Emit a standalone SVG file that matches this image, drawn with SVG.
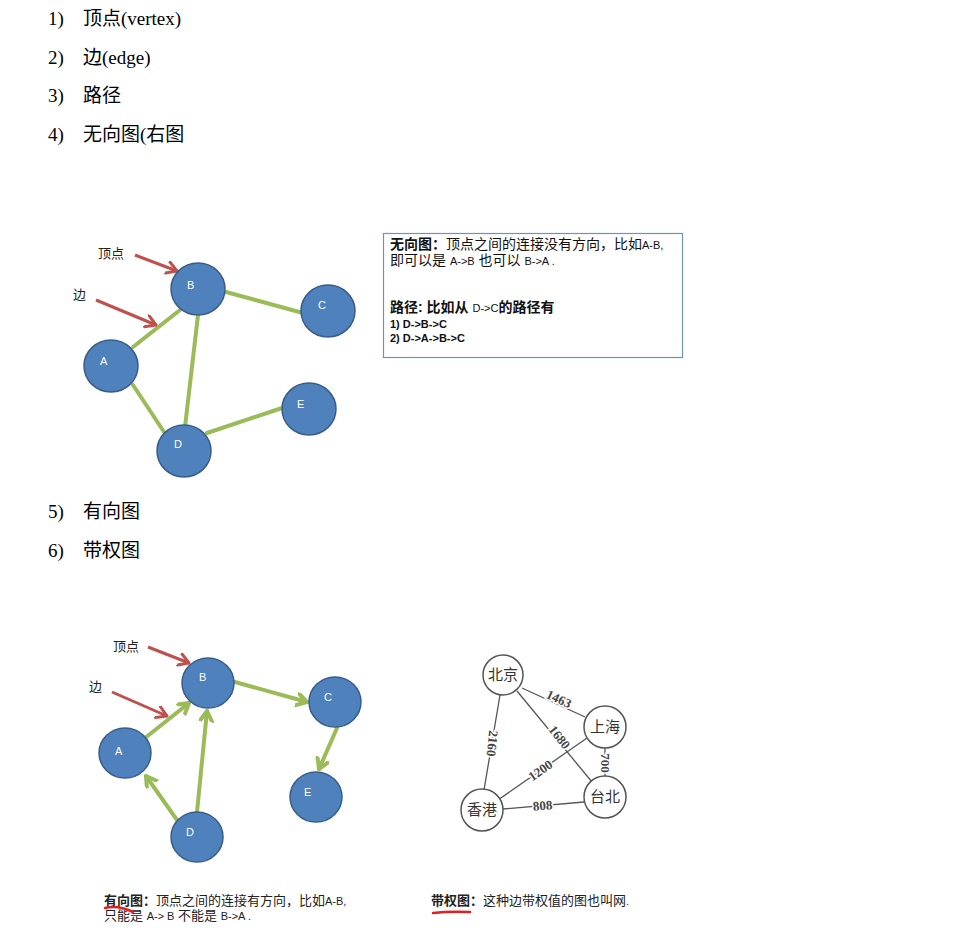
<svg xmlns="http://www.w3.org/2000/svg" width="956" height="949" viewBox="0 0 956 949">
<defs>
<style>
.list{font-family:"Liberation Serif","Noto Sans CJK SC",serif;font-size:19px;fill:#000}
.node{fill:#4f81bd;stroke:#385d8a;stroke-width:1.5}
.nl{font-family:"Liberation Sans",sans-serif;font-size:11px;fill:#fff}
.edge{stroke:#9bbb59;stroke-width:4;fill:none;stroke-linecap:round}
.red{stroke:#c0504d;stroke-width:3;fill:none}
.lab{font-family:"Liberation Sans","Noto Sans CJK SC",sans-serif;font-size:13px;fill:#222}
.box{font-family:"Liberation Sans","Noto Sans CJK SC",sans-serif;font-size:14px;fill:#111}
.sm{font-size:11px}
.wn{fill:#fff;stroke:#555;stroke-width:1.5}
.wt{font-family:"Noto Sans CJK SC",sans-serif;font-size:15px;fill:#333}
.we{stroke:#555;stroke-width:1.3;fill:none}
.wl{font-family:"Liberation Serif",serif;font-size:13px;font-weight:bold;fill:#444;stroke:#fff;stroke-width:3;paint-order:stroke}
.cap{font-family:"Liberation Sans","Noto Sans CJK SC",sans-serif;font-size:13px;fill:#222}
</style>
<marker id="ga" markerUnits="userSpaceOnUse" markerWidth="16" markerHeight="16" refX="11" refY="7" orient="auto">
<path d="M1,1 L11,7 L1,13" fill="none" stroke="#9bbb59" stroke-width="4" stroke-linecap="round" stroke-linejoin="round"/>
</marker>
<marker id="ra" markerUnits="userSpaceOnUse" markerWidth="16" markerHeight="16" refX="11" refY="7" orient="auto">
<path d="M1,1 L11,7 L1,13" fill="none" stroke="#c0504d" stroke-width="3" stroke-linecap="round" stroke-linejoin="round"/>
</marker>
</defs>
<rect width="956" height="949" fill="#fff"/>

<g id="list">
<text class="list" x="48" y="25">1)</text><text class="list" x="83" y="25">顶点(vertex)</text>
<text class="list" x="48" y="64">2)</text><text class="list" x="83" y="64">边(edge)</text>
<text class="list" x="48" y="102">3)</text><text class="list" x="83" y="102">路径</text>
<text class="list" x="48" y="141">4)</text><text class="list" x="83" y="141">无向图(右图</text>
<text class="list" x="48" y="518">5)</text><text class="list" x="83" y="518">有向图</text>
<text class="list" x="48" y="557">6)</text><text class="list" x="83" y="557">带权图</text>
</g>

<!-- Undirected graph -->
<g id="undirected-connectors">
<line class="edge" x1="226" y1="292" x2="303" y2="313"/>
<line class="edge" x1="133" y1="347" x2="180" y2="310"/>
<line class="edge" x1="198" y1="315" x2="185" y2="427"/>
<line class="edge" x1="133" y1="385" x2="166" y2="435"/>
<line class="edge" x1="207" y1="433" x2="282" y2="408"/>
<line class="red" x1="135" y1="255" x2="177" y2="271" marker-end="url(#ra)"/>
<line class="red" x1="96" y1="300" x2="156" y2="325" marker-end="url(#ra)"/>
</g>
<text class="lab" x="98" y="258">顶点</text>
<text class="lab" x="73" y="299">边</text>
<g id="u-B"><ellipse class="node" cx="198" cy="289" rx="27" ry="26"/><text class="nl" x="187" y="289">B</text></g>
<g id="u-C"><ellipse class="node" cx="328" cy="311" rx="27" ry="26"/><text class="nl" x="318" y="309">C</text></g>
<g id="u-A"><ellipse class="node" cx="111" cy="366" rx="27" ry="26"/><text class="nl" x="100" y="365">A</text></g>
<g id="u-E"><ellipse class="node" cx="309" cy="409" rx="27" ry="26"/><text class="nl" x="297" y="408">E</text></g>
<g id="u-D"><ellipse class="node" cx="184" cy="451" rx="27" ry="26"/><text class="nl" x="174" y="448">D</text></g>

<g id="textbox">
<rect x="383.5" y="233.5" width="299" height="124" fill="#fff" stroke="#6e93b8" stroke-width="1.2"/>
<text class="box" x="390" y="249"><tspan font-weight="bold">无向图：</tspan><tspan>顶点之间的连接没有方向，比如</tspan><tspan class="sm">A-B,</tspan></text>
<text class="box" x="390" y="265">即可以是 <tspan class="sm">A-&gt;B</tspan> 也可以 <tspan class="sm">B-&gt;A .</tspan></text>
<text class="box" x="390" y="312" font-weight="bold">路径: 比如从 <tspan class="sm" font-weight="normal">D-&gt;C</tspan>的路径有</text>
<text class="box sm" x="390" y="328" font-weight="bold">1) D-&gt;B-&gt;C</text>
<text class="box sm" x="390" y="342" font-weight="bold">2) D-&gt;A-&gt;B-&gt;C</text>
</g>

<!-- Directed graph -->
<g id="directed-connectors">
<line class="edge" x1="145" y1="738" x2="189" y2="703" marker-end="url(#ga)"/>
<line class="edge" x1="197" y1="812" x2="207" y2="711" marker-end="url(#ga)"/>
<line class="edge" x1="235" y1="682" x2="307" y2="702" marker-end="url(#ga)"/>
<line class="edge" x1="337" y1="728" x2="319" y2="769" marker-end="url(#ga)"/>
<line class="edge" x1="177" y1="820" x2="146" y2="776" marker-end="url(#ga)"/>
<line class="red" x1="148" y1="647" x2="189" y2="663" marker-end="url(#ra)"/>
<line class="red" x1="112" y1="692" x2="167" y2="716" marker-end="url(#ra)"/>
</g>
<text class="lab" x="113" y="651">顶点</text>
<text class="lab" x="89" y="691">边</text>
<g id="d-B"><ellipse class="node" cx="208" cy="683" rx="26" ry="25"/><text class="nl" x="199" y="681">B</text></g>
<g id="d-C"><ellipse class="node" cx="335" cy="702" rx="26" ry="25"/><text class="nl" x="324" y="701">C</text></g>
<g id="d-A"><ellipse class="node" cx="125" cy="753" rx="26" ry="25"/><text class="nl" x="115" y="755">A</text></g>
<g id="d-E"><ellipse class="node" cx="316" cy="797" rx="26" ry="25"/><text class="nl" x="304" y="796">E</text></g>
<g id="d-D"><ellipse class="node" cx="197" cy="837" rx="26" ry="25"/><text class="nl" x="186" y="836">D</text></g>

<!-- Weighted graph -->
<g id="weighted-connectors">
<line class="we" x1="522" y1="688" x2="585" y2="717"/>
<line class="we" x1="517" y1="691" x2="592" y2="782"/>
<line class="we" x1="500" y1="695" x2="484" y2="790"/>
<line class="we" x1="587" y1="738" x2="498" y2="800"/>
<line class="we" x1="605" y1="747" x2="605" y2="777"/>
<line class="we" x1="503" y1="809" x2="584" y2="802"/>
<text class="wl" transform="translate(557,703) rotate(25)" text-anchor="middle">1463</text>
<text class="wl" transform="translate(556,740) rotate(52)" text-anchor="middle">1680</text>
<text class="wl" transform="translate(488,743) rotate(96)" text-anchor="middle">2160</text>
<text class="wl" transform="translate(543,774) rotate(-35)" text-anchor="middle">1200</text>
<text class="wl" transform="translate(601,763) rotate(90)" text-anchor="middle">700</text>
<text class="wl" transform="translate(543,810) rotate(-5)" text-anchor="middle">808</text>
</g>
<g id="w-beijing"><circle class="wn" cx="503" cy="675" r="20"/><text class="wt" x="503" y="680" text-anchor="middle">北京</text></g>
<g id="w-shanghai"><circle class="wn" cx="605" cy="727" r="21"/><text class="wt" x="605" y="732" text-anchor="middle">上海</text></g>
<g id="w-taibei"><circle class="wn" cx="605" cy="797" r="21"/><text class="wt" x="605" y="802" text-anchor="middle">台北</text></g>
<g id="w-xianggang"><circle class="wn" cx="482" cy="810" r="21"/><text class="wt" x="482" y="815" text-anchor="middle">香港</text></g>

<g id="captions">
<text class="cap" x="104" y="905"><tspan font-weight="bold">有向图：</tspan><tspan>顶点之间的连接有方向，比如</tspan><tspan class="sm">A-B,</tspan></text>
<text class="cap" x="104" y="920">只能是 <tspan class="sm">A-&gt; B</tspan> 不能是 <tspan class="sm">B-&gt;A .</tspan></text>
<path d="M105,908 Q118,905 133,912" fill="none" stroke="#e02020" stroke-width="2.5" stroke-linecap="round"/>
<text class="cap" x="431" y="905"><tspan font-weight="bold">带权图：</tspan>这种边带权值的图也叫网<tspan class="sm">.</tspan></text>
<path d="M433,913 Q450,911 470,912" fill="none" stroke="#e02020" stroke-width="2.5" stroke-linecap="round"/>
</g>
</svg>
